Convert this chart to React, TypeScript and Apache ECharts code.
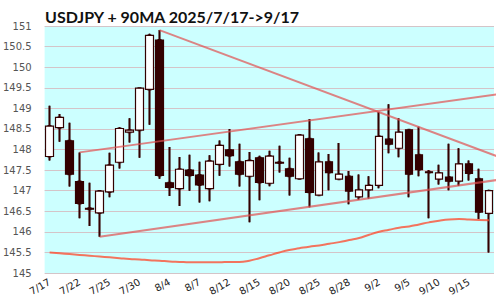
import React, { useEffect, useRef } from "react";
import * as echarts from "echarts";

const dates = [
  "7/17", "7/18", "7/21", "7/22", "7/23", "7/24", "7/25", "7/28", "7/29", "7/30", "7/31",
  "8/1", "8/4", "8/5", "8/6", "8/7", "8/8", "8/11", "8/12", "8/13", "8/14", "8/15", "8/18",
  "8/19", "8/20", "8/21", "8/22", "8/25", "8/26", "8/27", "8/28", "8/29",
  "9/1", "9/2", "9/3", "9/4", "9/5", "9/8", "9/9", "9/10", "9/11", "9/12", "9/15", "9/16", "9/17",
];

const opens = [
  147.83, 148.53, 148.21, 147.22, 146.57, 146.46, 146.97, 147.69, 148.42, 148.47, 149.46,
  150.66, 147.19, 147.05, 147.5, 147.38, 147.05, 147.64, 147.99, 147.7, 147.35, 147.8, 147.18,
  147.67, 147.53, 147.29, 148.26, 146.89, 147.7, 147.28, 147.35, 146.85,
  147.02, 147.13, 148.25, 148.03, 148.48, 147.87, 147.46, 147.28, 147.33, 147.23, 147.65, 147.29, 146.45,
];
const closes = [
  148.57, 148.78, 147.4, 146.69, 146.55, 146.99, 147.62, 148.51, 148.47, 149.49, 150.77,
  147.37, 147.08, 147.52, 147.37, 147.14, 147.72, 148.1, 147.85, 147.4, 147.73, 147.2, 147.84,
  147.69, 147.35, 148.35, 146.96, 147.7, 147.44, 147.4, 146.99, 147.02,
  147.13, 148.32, 148.13, 148.42, 147.4, 147.51, 147.44, 147.43, 147.23, 147.65, 147.42, 146.48, 147.0,
];
const lows = [
  147.73, 148.19, 147.1, 146.33, 146.14, 145.88, 146.84, 147.54, 148.17, 147.8, 148.6,
  147.29, 146.87, 146.63, 147.0, 146.71, 146.74, 147.36, 147.59, 147.1, 146.23, 146.77, 147.11,
  147.44, 146.88, 147.27, 146.6, 146.88, 147.01, 147.27, 146.67, 146.78,
  146.81, 147.06, 147.91, 147.81, 146.84, 147.35, 146.33, 147.15, 147.01, 147.12, 147.25, 146.31, 145.5,
];
const highs = [
  149.06, 148.86, 148.65, 147.93, 147.19, 147.0, 147.92, 148.54, 148.76, 149.5, 150.81,
  150.9, 148.06, 147.82, 147.87, 147.7, 147.86, 148.22, 148.5, 148.14, 147.94, 147.85, 147.97,
  148.09, 147.8, 148.37, 148.74, 147.93, 147.89, 148.16, 147.48, 147.39,
  147.35, 148.91, 149.1, 148.76, 148.5, 148.55, 147.5, 147.63, 148.14, 148.03, 147.73, 147.53, 147.02,
];

const ma90 = [
  145.5, 145.48, 145.46, 145.44, 145.42, 145.4, 145.38, 145.36, 145.34, 145.33, 145.31,
  145.3, 145.28, 145.27, 145.26, 145.26, 145.26, 145.26, 145.27, 145.27, 145.3, 145.36, 145.43,
  145.5, 145.56, 145.6, 145.64, 145.67, 145.71, 145.75, 145.8, 145.85,
  145.93, 146.0, 146.05, 146.1, 146.13, 146.18, 146.23, 146.27, 146.3, 146.31, 146.3, 146.29, 146.28,
];

// trend lines: [candle index, price]
const trendDown = [[11, 150.9], [45.1, 147.81]];
const trendUpperRise = [[3, 147.93], [45.1, 149.35]];
const trendLowerRise = [[5, 145.88], [45.1, 147.27]];

const yTicks = { min: 145, max: 151, step: 0.5 };

export default function App() {
  const ref = useRef<HTMLDivElement>(null);
  useEffect(() => {
    if (!ref.current) return;
    const chart = echarts.init(ref.current, undefined, { renderer: "svg" });
    const ohlc = dates.map((_, i) => [opens[i], closes[i], lows[i], highs[i]]);
    const dark = "#330000";
    const trendStyle = { color: "rgba(225,80,80,0.7)", width: 2 };
    const mkTrend = (d: number[][]) => ({
      type: "line",
      xAxisIndex: 1,
      data: d,
      symbol: "none",
      clip: false,
      silent: true,
      lineStyle: trendStyle,
      z: 6,
    });
    chart.setOption({
      animation: false,
      backgroundColor: "#ffffff",
      title: {
        text: "USDJPY + 90MA 2025/7/17->9/17",
        left: 40,
        top: 3,
        textStyle: { fontSize: 16, fontWeight: "bold", color: "#111", fontFamily: "Lato" },
      },
      grid: {
        left: 40,
        right: 6,
        top: 26,
        bottom: 27,
        show: true,
        backgroundColor: "#ccffff",
        borderWidth: 0,
      },
      xAxis: [
        {
          type: "category",
          data: dates,
          boundaryGap: true,
          axisLine: { show: false },
          axisTick: { show: false },
          splitLine: { show: false },
          axisLabel: {
            interval: 2,
            rotate: 30,
            margin: 8,
            fontSize: 10,
            color: "#222",
            fontFamily: "DejaVu Sans",
          },
        },
        {
          type: "value",
          min: -0.5,
          max: 44.5,
          show: false,
        },
      ],
      yAxis: {
        type: "value",
        min: yTicks.min,
        max: yTicks.max,
        interval: yTicks.step,
        axisLine: { show: false },
        axisTick: { show: false },
        splitLine: { lineStyle: { color: "#d4c4c8", width: 1 } },
        axisLabel: { fontSize: 10, color: "#555", margin: 13, fontFamily: "DejaVu Sans" },
      },
      series: [
        {
          type: "candlestick",
          data: ohlc,
          barWidth: 2,
          silent: true,
          itemStyle: {
            color: dark,
            color0: dark,
            borderColor: dark,
            borderColor0: dark,
            borderWidth: 2,
          },
          z: 3,
        },
        {
          type: "candlestick",
          data: ohlc,
          barWidth: 8,
          silent: true,
          itemStyle: {
            color: "#ffffff",
            color0: dark,
            borderColor: dark,
            borderColor0: dark,
            borderWidth: 1.2,
          },
          z: 4,
        },
        {
          type: "line",
          data: ma90,
          symbol: "none",
          smooth: true,
          silent: true,
          lineStyle: { color: "rgba(255,70,40,0.75)", width: 2 },
          z: 6,
        },
        mkTrend(trendDown),
        mkTrend(trendUpperRise),
        mkTrend(trendLowerRise),
      ],
    });
    return () => chart.dispose();
  }, []);
  return (
    <div
      ref={ref}
      style={{ position: "fixed", left: 0, top: 0, width: 500, height: 300 }}
    />
  );
}
